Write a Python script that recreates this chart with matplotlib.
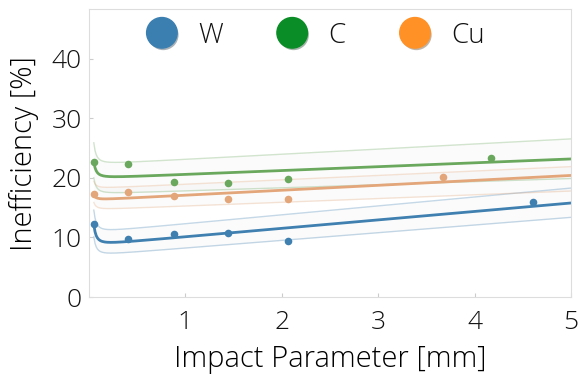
import numpy as np
import matplotlib
matplotlib.use("Agg")
from matplotlib import pyplot as plt
from matplotlib.lines import Line2D
import matplotlib.patheffects as pe

# measured points
Impact_W = [0.05, 0.40, 0.88, 1.44, 2.06, 4.61]
Ineff_W = [12.3, 9.8, 10.6, 10.8, 9.4, 16.0]
Impact_C = [0.05, 0.40, 0.88, 1.44, 2.06, 4.17]
Ineff_C = [22.7, 22.4, 19.3, 19.2, 19.8, 23.4]
Impact_Cu = [0.05, 0.40, 0.88, 1.44, 2.06, 3.67]
Ineff_Cu = [17.3, 17.6, 17.0, 16.5, 16.5, 20.2]

# fit coefficients a + b*x + c/x^2 (fit, upper, lower)
Fit_W = [[8.69, 1.42, 0.0085], [10.8, 1.50, 0.0093], [6.93, 1.29, 0.0078]]
Fit_C = [[19.94, 0.65, 0.0068], [22.26, 0.86, 0.0090], [17.30, 0.52, 0.0068]]
Fit_Cu = [[16.27, 0.83, 0.0020], [18.20, 0.74, 0.0030], [14.65, 0.63, 0.0030]]

Names = ["W", "C", "Cu"]
LegendColors = ["#3b7fb1", "#0a8c26", "#ff9126"]
LineColors = ["#3f80b0", "#6aa85e", "#e3a67a"]

plt.rcParams['font.family'] = ['Open Sans', 'DejaVu Sans']
plt.rcParams['font.weight'] = 'light'
plt.rcParams['axes.labelweight'] = 'light'
plt.rcParams['text.color'] = '#111111'

fig = plt.figure(figsize=(5.79, 3.82), dpi=100)
ax = fig.add_axes([0.1537, 0.2225, 0.8323, 0.7527])

xs = np.linspace(0.05, 5, 400)

def model(p, x):
    return p[0] + p[1] * x + p[2] / x ** 2

Series = [(Impact_W, Ineff_W, Fit_W), (Impact_C, Ineff_C, Fit_C), (Impact_Cu, Ineff_Cu, Fit_Cu)]
for i, (px, py, fit) in enumerate(Series):
    col = LineColors[i]
    up = model(fit[1], xs)
    lo = model(fit[2], xs)
    ax.fill_between(xs, lo, up, color='k', alpha=0.015, lw=0)
    ax.plot(xs, up, color=col, lw=1.0, alpha=0.3)
    ax.plot(xs, lo, color=col, lw=1.0, alpha=0.3)
    ax.plot(xs, model(fit[0], xs), color=col, lw=2.0)
    ax.scatter(px, py, color=col, s=30, zorder=5, lw=0)

ax.set_xlim(0, 5)
ax.set_ylim(0, 48.3)
ax.set_xticks([1, 2, 3, 4, 5])
ax.set_yticks([0, 10, 20, 30, 40])
ax.tick_params(axis='both', direction='in', length=3, color='#cccccc', labelsize=19,
               labelcolor='#111111')
ax.tick_params(axis='x', pad=9)
ax.tick_params(axis='y', pad=5)
for s in ax.spines.values():
    s.set_color('#dddddd')
ax.set_xlabel('Impact Parameter [mm]', fontsize=21, labelpad=7)
ax.set_ylabel('Inefficiency [%]', fontsize=21, labelpad=9)

handles = []
for i in range(3):
    h = Line2D([], [], ls='', marker='o', markersize=22, color=LegendColors[i],
               path_effects=[pe.SimplePatchShadow(offset=(1, -1.5), alpha=0.35), pe.Normal()])
    handles.append(h)
leg = fig.legend(handles, Names, loc='center', bbox_to_anchor=(0.544, 0.907), ncol=3,
                 frameon=False, fontsize=20, handletextpad=0.7, columnspacing=1.9,
                 handlelength=1.2)

fig.savefig('out.png', dpi=100)
